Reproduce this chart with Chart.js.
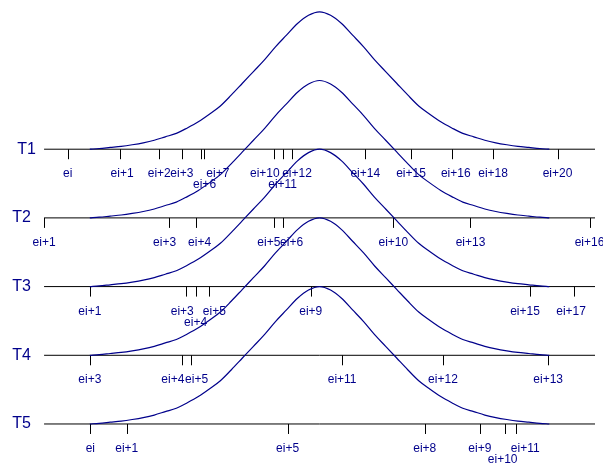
<!DOCTYPE html>
<html>
<head>
<meta charset="utf-8">
<title>Event times per trial</title>
<script src="https://cdn.jsdelivr.net/npm/chart.js@4.4.1/dist/chart.umd.min.js"></script>
<style>
  html, body { margin: 0; padding: 0; background: #fff; }
  #wrap { width: 603px; height: 463px; }
</style>
</head>
<body>
<div id="wrap"><canvas id="chartCanvas"></canvas></div>
<script>
// trials, top to bottom
const trials = ['T1', 'T2', 'T3', 'T4', 'T5'];

// events on each trial and the time (0-100) they happen at
const eventsT1 = ['ei', 'ei+1', 'ei+2', 'ei+3', 'ei+6', 'ei+7', 'ei+10', 'ei+11', 'ei+12', 'ei+14', 'ei+15', 'ei+16', 'ei+18', 'ei+20'];
const timesT1  = [4.3, 13.8, 20.9, 25.0, 28.4, 29.0, 41.7, 43.3, 45.0, 58.3, 66.6, 74.0, 81.5, 93.2];
const eventsT2 = ['ei+1', 'ei+3', 'ei+4', 'ei+5', 'ei+6', 'ei+10', 'ei+13', 'ei+16'];
const timesT2  = [0.0, 22.6, 27.5, 41.7, 43.3, 63.4, 77.4, 99.0];
const eventsT3 = ['ei+1', 'ei+3', 'ei+4', 'ei+5', 'ei+9', 'ei+15', 'ei+17'];
const timesT3  = [8.3, 25.8, 27.5, 30.0, 48.4, 88.2, 96.2];
const eventsT4 = ['ei+3', 'ei+4', 'ei+5', 'ei+11', 'ei+12', 'ei+13'];
const timesT4  = [8.3, 25.0, 26.6, 54.1, 72.4, 91.5];
const eventsT5 = ['ei', 'ei+1', 'ei+5', 'ei+8', 'ei+9', 'ei+10', 'ei+11'];
const timesT5  = [8.4, 15.0, 44.2, 69.1, 79.1, 83.6, 85.7];

// bell curve drawn on every trial: time and height (in trial rows)
const curveTime   = [8.3, 10, 12, 14, 16, 18, 20, 22, 24, 26, 28, 30, 32, 34, 36, 38, 40, 42, 44, 46, 48, 50,
                     52, 54, 56, 58, 60, 62, 64, 66, 68, 70, 72, 74, 76, 78, 80, 82, 84, 86, 88, 90, 91.7];
const curveHeight = [0, 0.01, 0.026, 0.042, 0.065, 0.093, 0.13, 0.18, 0.23, 0.31, 0.40, 0.51, 0.63, 0.79, 0.96, 1.13, 1.30, 1.49, 1.66, 1.83, 1.95, 2.00,
                     1.95, 1.83, 1.66, 1.49, 1.30, 1.13, 0.96, 0.79, 0.63, 0.51, 0.40, 0.31, 0.23, 0.18, 0.13, 0.093, 0.065, 0.042, 0.026, 0.01, 0];

const events = [eventsT1, eventsT2, eventsT3, eventsT4, eventsT5];
const times = [timesT1, timesT2, timesT3, timesT4, timesT5];

const BLUE = '#00008b';
const FONT = '"Liberation Sans", Arial, Helvetica, sans-serif';

// crowded labels get pushed sideways (px) or dropped to a second line
const labelNudge = {
  'T1 ei+1': [2, 0], 'T1 ei+6': [4, 1], 'T1 ei+7': [14, 0], 'T1 ei+10': [-9, 0],
  'T1 ei+11': [0, 1], 'T1 ei+12': [5, 0], 'T1 ei+16': [4, 0],
  'T2 ei+3': [-4, 0], 'T2 ei+4': [4, 0], 'T2 ei+5': [-5, 0], 'T2 ei+6': [9, 0],
  'T3 ei+3': [-4, 0], 'T3 ei+4': [0, 1], 'T3 ei+5': [5, 0], 'T3 ei+15': [-5, 0], 'T3 ei+17': [-3, 0],
  'T4 ei+4': [-9, 0], 'T4 ei+5': [6, 0],
  'T5 ei+10': [-2, 1], 'T5 ei+11': [9, 0]
};

// row index -> y level of its baseline
const level = i => trials.length - 1 - i;

const timelinePlugin = {
  id: 'timeline',
  beforeDatasetsDraw(chart) {
    const { ctx, scales: { x, y } } = chart;
    ctx.save();
    ctx.strokeStyle = '#000';
    ctx.lineWidth = 1;
    trials.forEach((name, i) => {
      const yb = y.getPixelForValue(level(i));
      ctx.beginPath();
      ctx.moveTo(x.getPixelForValue(0), yb);
      ctx.lineTo(x.getPixelForValue(100), yb);
      times[i].forEach(t => {
        const px = Math.round(x.getPixelForValue(t)) + 0.5;
        ctx.moveTo(px, yb);
        ctx.lineTo(px, yb + 10);
      });
      ctx.stroke();
    });
    ctx.restore();
  },
  afterDatasetsDraw(chart) {
    const { ctx, scales: { x, y } } = chart;
    ctx.save();
    ctx.fillStyle = BLUE;
    trials.forEach((name, i) => {
      const yb = y.getPixelForValue(level(i));
      ctx.font = '16px ' + FONT;
      ctx.textAlign = 'right';
      ctx.textBaseline = 'middle';
      ctx.fillText(name, name === 'T1' ? 36 : 31, yb);

      ctx.font = '12px ' + FONT;
      ctx.textAlign = 'center';
      ctx.textBaseline = 'alphabetic';
      events[i].forEach((lab, j) => {
        const [dx, line] = labelNudge[name + ' ' + lab] || [0, 0];
        ctx.fillText(lab, x.getPixelForValue(times[i][j]) + dx, yb + 28 + line * 11);
      });
    });
    ctx.restore();
  }
};

const ctx = document.getElementById('chartCanvas').getContext('2d');
const chart = new Chart(ctx, {
  type: 'line',
  data: {
    datasets: trials.map((name, i) => ({
      label: name,
      data: curveTime.map((t, k) => ({ x: t, y: level(i) + curveHeight[k] })),
      borderColor: BLUE,
      borderWidth: 1.2,
      pointRadius: 0,
      fill: false,
      cubicInterpolationMode: 'monotone'
    }))
  },
  options: {
    responsive: true,
    maintainAspectRatio: false,
    animation: false,
    layout: { padding: 0 },
    plugins: { legend: { display: false }, tooltip: { enabled: false } },
    scales: {
      x: { type: 'linear', min: -8, max: 101.45, display: false },
      y: { type: 'linear', min: -0.568, max: 6.172, display: false }
    }
  },
  plugins: [timelinePlugin]
});
</script>
</body>
</html>
